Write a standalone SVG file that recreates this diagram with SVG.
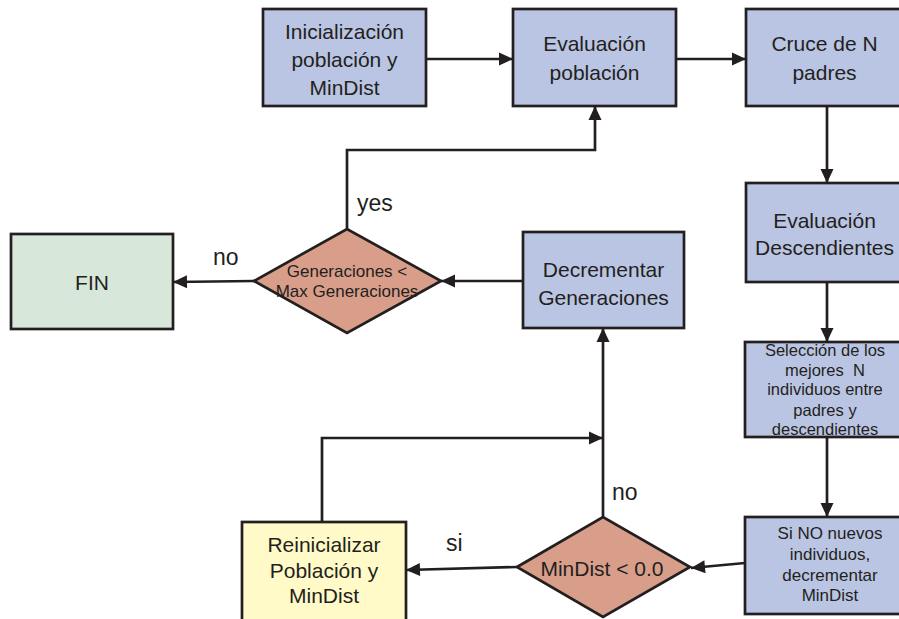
<svg xmlns="http://www.w3.org/2000/svg" width="899" height="619" viewBox="0 0 899 619">
<style>
.box{fill:#BAC5E3;stroke:#231F20;stroke-width:2.7}
.dia{fill:#D89E8A;stroke:#231F20;stroke-width:2.7}
.fin{fill:#D7E7DA;stroke:#231F20;stroke-width:2.7}
.yel{fill:#FFFAC8;stroke:#231F20;stroke-width:2.7}
text{font-family:"Liberation Sans",Arial,sans-serif;fill:#231F20;text-anchor:middle}
.t{font-size:21px}
.s{font-size:16.5px}
.m{font-size:17px}
.lbl{font-size:23px;text-anchor:start}
.con{fill:none;stroke:#231F20;stroke-width:2.7}
</style>
<defs>
<marker id="ah" markerUnits="userSpaceOnUse" markerWidth="16" markerHeight="16" viewBox="0 0 16 16" refX="15" refY="8" orient="auto">
<path d="M1,1.5 L15,8 L1,14.5 Z" fill="#231F20"/>
</marker>
</defs>
<rect width="899" height="619" fill="#FFFFFF"/>
<g id="connectors">
<line class="con" x1="426" y1="59" x2="513" y2="59" marker-end="url(#ah)"/>
<line class="con" x1="676" y1="59" x2="746" y2="59" marker-end="url(#ah)"/>
<line class="con" x1="827" y1="106" x2="827" y2="183" marker-end="url(#ah)"/>
<line class="con" x1="827" y1="282" x2="827" y2="342" marker-end="url(#ah)"/>
<line class="con" x1="827" y1="437" x2="827" y2="517" marker-end="url(#ah)"/>
<line class="con" x1="745" y1="563" x2="691" y2="568" marker-end="url(#ah)"/>
<line class="con" x1="517" y1="567" x2="406" y2="570" marker-end="url(#ah)"/>
<line class="con" x1="603" y1="517" x2="603" y2="328" marker-end="url(#ah)"/>
<polyline class="con" points="322,522 322,438 603,438" marker-end="url(#ah)"/>
<line class="con" x1="523" y1="281" x2="441" y2="281" marker-end="url(#ah)"/>
<line class="con" x1="254" y1="281" x2="173" y2="282" marker-end="url(#ah)"/>
<polyline class="con" points="347,229 347,150 595,150 595,106" marker-end="url(#ah)"/>
<text class="lbl" x="357" y="211">yes</text>
<text class="lbl" x="213" y="265">no</text>
<text class="lbl" x="612" y="500">no</text>
<text class="lbl" x="446" y="551">si</text>
</g>
<g id="init">
<rect class="box" x="263" y="9" width="163" height="97"/>
<text class="t" x="344.5" y="38.5">Inicialización</text>
<text class="t" x="344.5" y="66.5">población y</text>
<text class="t" x="344.5" y="94.5">MinDist</text>
</g>
<g id="eval">
<rect class="box" x="513" y="9" width="163" height="97"/>
<text class="t" x="594.5" y="50.5">Evaluación</text>
<text class="t" x="594.5" y="79.5">población</text>
</g>
<g id="cruce">
<rect class="box" x="746" y="9" width="157" height="97"/>
<text class="t" x="824.5" y="50.5">Cruce de N</text>
<text class="t" x="824.5" y="79.5">padres</text>
</g>
<g id="evaldesc">
<rect class="box" x="746" y="183" width="157" height="99"/>
<text class="t" x="824.5" y="227.5">Evaluación</text>
<text class="t" x="824.5" y="254.5">Descendientes</text>
</g>
<g id="seleccion">
<rect class="box" x="745" y="342" width="158" height="95"/>
<text class="s" x="825" y="356">Selección de los</text>
<text class="s" x="825" y="376" xml:space="preserve">mejores  N</text>
<text class="s" x="825" y="395">individuos entre</text>
<text class="s" x="825" y="416">padres y</text>
<text class="s" x="825" y="435">descendientes</text>
</g>
<g id="sino">
<rect class="box" x="745" y="517" width="158" height="97"/>
<text class="m" x="830" y="539">Si NO nuevos</text>
<text class="m" x="830" y="560">individuos,</text>
<text class="m" x="830" y="581">decrementar</text>
<text class="m" x="830" y="601">MinDist</text>
</g>
<g id="mindist">
<polygon class="dia" points="517,567 603,517 690,567 603,617"/>
<text class="t" x="602" y="576">MinDist &lt; 0.0</text>
</g>
<g id="reinit">
<rect class="yel" x="242" y="522" width="164" height="100"/>
<text class="t" x="324" y="551.5">Reinicializar</text>
<text class="t" x="324" y="577.5">Población y</text>
<text class="t" x="324" y="602.5">MinDist</text>
</g>
<g id="decrementar">
<rect class="box" x="523" y="232" width="161" height="96"/>
<text class="t" x="603.5" y="276.5">Decrementar</text>
<text class="t" x="603.5" y="304.5">Generaciones</text>
</g>
<g id="gen">
<polygon class="dia" points="254,281 347,229 441,281 347,333"/>
<text class="m" x="347" y="277">Generaciones &lt;</text>
<text class="m" x="347" y="297">Max Generaciones</text>
</g>
<g id="fin">
<rect class="fin" x="11" y="234" width="162" height="95"/>
<text class="t" x="92" y="289.5">FIN</text>
</g>
</svg>
